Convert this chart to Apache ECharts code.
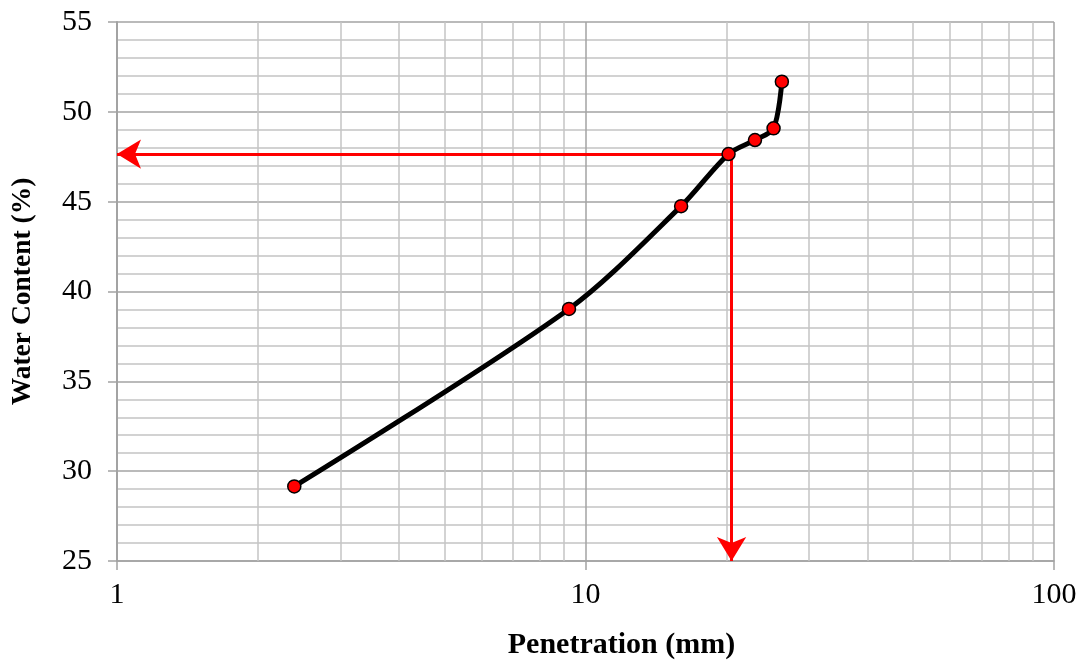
<!DOCTYPE html>
<html>
<head>
<meta charset="utf-8">
<title>Water Content vs Penetration</title>
<script src="https://cdn.jsdelivr.net/npm/echarts@6/dist/echarts.min.js"></script>
<style>
  html, body { margin: 0; padding: 0; background: #ffffff; }
  #chart { width: 1083px; height: 667px; }
</style>
</head>
<body>
<div id="chart"></div>
<script>
// Cone penetration test readings
const penetration = [2.39, 9.22, 16.0, 20.2, 23.0, 25.2, 26.25];   // mm
const waterContent = [29.15, 39.03, 44.75, 47.65, 48.43, 49.08, 51.68]; // %

// Liquid limit read-off (guide arrows)
const limitPenetration = 20.5;
const limitWater = 47.65;

// Axis ranges and log-grid positions
const xRange = [1, 100];
const yRange = [25, 55];
const yStep = 5;
const xMinorGrid = [2, 3, 4, 5, 6, 7, 8, 9, 20, 30, 40, 50, 60, 70, 80, 90];

const FONT = '"Liberation Serif", "Times New Roman", serif';
const MAJOR = '#a3a3a3';
const MINOR = '#c4c4c4';

const points = penetration.map((x, i) => [x, waterContent[i]]);

const chart = echarts.init(document.getElementById('chart'), null, { renderer: 'canvas' });

chart.setOption({
  backgroundColor: '#ffffff',
  animation: false,
  grid: { left: 117, right: 29, top: 22, bottom: 106, containLabel: false },
  xAxis: {
    type: 'log',
    logBase: 10,
    min: xRange[0],
    max: xRange[1],
    name: 'Penetration (mm)',
    nameLocation: 'middle',
    nameGap: 69,
    nameTextStyle: {
      fontFamily: FONT, fontSize: 30, fontWeight: 'bold', color: '#000',
      padding: [0, 0, 0, 72]
    },
    axisLine: { show: true, onZero: false, lineStyle: { color: MAJOR, width: 1.5 } },
    axisTick: { show: true, length: 9, lineStyle: { color: MAJOR, width: 1.5 } },
    axisLabel: { fontFamily: FONT, fontSize: 30, color: '#000', margin: 19 },
    splitLine: { show: true, lineStyle: { color: MAJOR, width: 1.5 } },
    minorTick: { show: false },
    minorSplitLine: { show: false }
  },
  yAxis: {
    type: 'value',
    min: yRange[0],
    max: yRange[1],
    interval: yStep,
    name: 'Water Content (%)',
    nameLocation: 'middle',
    nameGap: 80,
    nameRotate: 90,
    nameTextStyle: { fontFamily: FONT, fontSize: 27.5, fontWeight: 'bold', color: '#000' },
    axisLine: { show: true, lineStyle: { color: MAJOR, width: 2 } },
    axisTick: { show: true, length: 9, lineStyle: { color: MAJOR, width: 1.5 } },
    axisLabel: { fontFamily: FONT, fontSize: 30, color: '#000', margin: 25 },
    splitLine: { show: true, lineStyle: { color: MAJOR, width: 1.5 } },
    minorTick: { show: false, splitNumber: 5 },
    minorSplitLine: { show: true, lineStyle: { color: MINOR, width: 1.5 } }
  },
  series: [
    {
      // vertical log-cycle grid lines between decades
      name: 'log grid',
      type: 'line',
      data: [],
      silent: true,
      z: 1,
      markLine: {
        z: 1,
        silent: true,
        symbol: ['none', 'none'],
        label: { show: false },
        lineStyle: { color: MINOR, width: 1.5, type: 'solid' },
        emphasis: { disabled: true },
        data: xMinorGrid.map(v => ({ xAxis: v }))
      }
    },
    {
      // red guide arrows to the liquid limit
      name: 'liquid limit',
      type: 'line',
      data: [],
      silent: true,
      z: 2,
      markLine: {
        z: 2,
        silent: true,
        symbol: ['none', 'arrow'],
        symbolSize: [22, 24],
        label: { show: false },
        lineStyle: { color: '#ff0000', width: 3, type: 'solid' },
        emphasis: { disabled: true },
        data: [
          [{ coord: [limitPenetration, limitWater] }, { coord: [xRange[0], limitWater] }],
          [{ coord: [limitPenetration, limitWater] }, { coord: [limitPenetration, yRange[0]] }]
        ]
      }
    },
    {
      name: 'Water Content',
      type: 'line',
      data: points,
      smooth: 0.3,
      z: 3,
      lineStyle: { color: '#000000', width: 5 },
      symbol: 'circle',
      symbolSize: 13,
      itemStyle: { color: '#ff0000', borderColor: '#000000', borderWidth: 1.5 }
    }
  ]
});
</script>
</body>
</html>
